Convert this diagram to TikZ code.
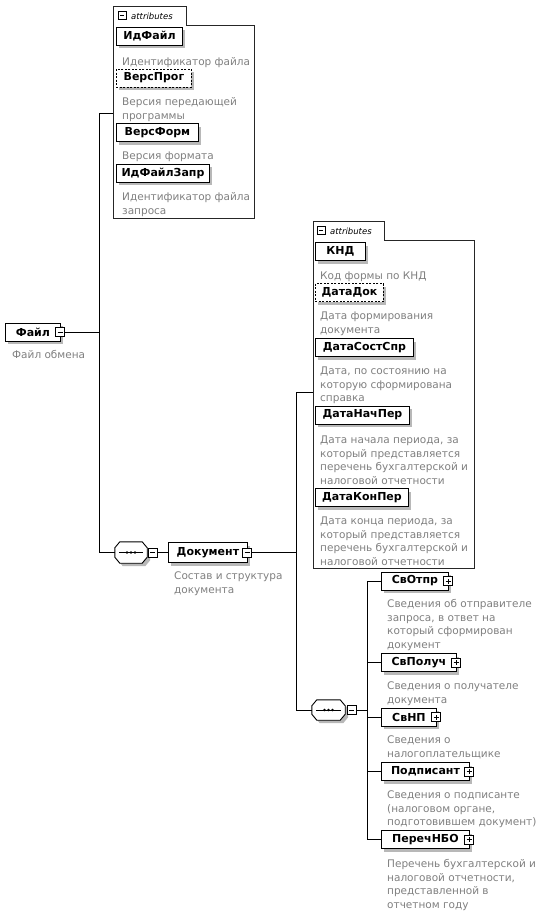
\documentclass[tikz,border=0pt]{standalone}
\usepackage{fontspec}
\setmainfont{DejaVu Sans}
\usetikzlibrary{shadows}
\definecolor{descgray}{RGB}{128,128,128}
\newcommand\namefont{\fontsize{11}{12}\selectfont\bfseries}
\newcommand\descfont{\fontsize{10.5}{13.5}\selectfont}
\newcommand\tabfont{\fontsize{8.5}{10}\selectfont\itshape}
\newcommand\octpath[2]{([shift={(#2+5,#2)}]#1.north west) -- ([shift={(#2-5,#2)}]#1.north east) -- ([shift={(#2,#2+6)}]#1.north east) -- ([shift={(#2,#2-6)}]#1.south east) -- ([shift={(#2-5,#2)}]#1.south east) -- ([shift={(#2+5,#2)}]#1.south west) -- ([shift={(#2,#2-6)}]#1.south west) -- ([shift={(#2,#2+6)}]#1.north west) -- cycle}
\newcommand\seqshape[1]{%
  \fill[black!28] \octpath{#1}{3};
  \draw[line width=0.9pt, fill=white] \octpath{#1}{0};
  \draw[line width=0.8pt] ([xshift=4pt]#1.west) -- ([xshift=-4pt]#1.east);
  \fill ([xshift=-4pt]#1.center) circle (1.4pt) (#1.center) circle (1.4pt) ([xshift=4pt]#1.center) circle (1.4pt);}
\tikzset{
  conn/.style={draw=black, line width=0.8pt},
  boxshadow/.style={drop shadow={shadow xshift=3pt, shadow yshift=-3pt, fill=black!28, opacity=1}},
  elem/.style={draw=black, line width=0.9pt, fill=white, boxshadow, minimum height=18pt, inner sep=0pt, anchor=west, font=\namefont},
  optelem/.style={elem, dash pattern=on 2pt off 1.5pt},
  desc/.style={anchor=base west, align=left, inner sep=0pt, text=descgray, font=\descfont},
  attrbox/.style={draw=black!85, line width=0.8pt, fill=white},
  tabtext/.style={anchor=base west, inner sep=0pt, font=\tabfont},
  seqbox/.style={shape=rectangle, draw=none, inner sep=0pt},
  iconbox/.style={draw=black, fill=white, line width=0.7pt, minimum size=9pt, inner sep=0pt},
  minusicon/.style={iconbox, path picture={\draw[line width=0.7pt] ([xshift=2pt]path picture bounding box.west) -- ([xshift=-2pt]path picture bounding box.east);}},
  plusicon/.style={iconbox, path picture={\draw[line width=0.7pt] ([xshift=2pt]path picture bounding box.west) -- ([xshift=-2pt]path picture bounding box.east) ([yshift=2pt]path picture bounding box.south) -- ([yshift=-2pt]path picture bounding box.north);}},
}
\begin{document}
\begin{tikzpicture}[x=1pt,y=-1pt]
\useasboundingbox[fill=white] (0,0) rectangle (547,914);

% ---------- attributes box 1 ----------
\draw[attrbox] (113,6) -- (186,6) -- (186,25) -- (254,25) -- (254,218) -- (113,218) -- cycle;
\node[minusicon, minimum size=8pt] (tab1ic) at (122,15.5) {};
\node[tabtext] (tab1t) at (131,19.5) {attributes};
\coordinate (attr1w) at (113,113);

\node[elem, minimum width=66pt] (idfile) at (116,36) {ИдФайл};
\node[desc] (didfile) at (122,65.5) {Идентификатор файла};
\node[optelem, minimum width=75pt] (versprog) at (116,78) {ВерсПрог};
\node[desc] (dversprog) at (122,119) {Версия передающей\\программы};
\node[elem, minimum width=82pt] (versform) at (116,132.5) {ВерсФорм};
\node[desc] (dversform) at (122,159.5) {Версия формата};
\node[elem, minimum width=93pt] (idfilezapr) at (116,173) {ИдФайлЗапр};
\node[desc] (didfilezapr) at (122,214) {Идентификатор файла\\запроса};

% ---------- root ----------
\node[elem, minimum width=55pt] (file) at (5,332) {Файл};
\node[minusicon] (fileic) at (60,332) {};
\node[desc] (dfile) at (12,358.5) {Файл обмена};

% ---------- sequence 1 and Документ ----------
\node[seqbox, minimum width=32pt, minimum height=21pt] (seq1) at (131,552.5) {};
\seqshape{seq1}
\node[minusicon] (seq1ic) at (152.5,552.5) {};

\node[elem, minimum width=79pt, minimum height=20pt] (doc) at (168,552.5) {Документ};
\node[minusicon] (docic) at (247,552.5) {};
\node[desc] (ddoc) at (174,593) {Состав и структура\\документа};

% ---------- attributes box 2 ----------
\draw[attrbox] (313,221) -- (384,221) -- (384,240) -- (474,240) -- (474,568) -- (313,568) -- cycle;
\node[minusicon, minimum size=8pt] (tab2ic) at (321,230.5) {};
\node[tabtext] (tab2t) at (330,234.5) {attributes};
\coordinate (attr2w) at (313,392);

\node[elem, minimum width=50pt] (knd) at (315,251.5) {КНД};
\node[desc] (dknd) at (320,279.5) {Код формы по КНД};
\node[optelem, minimum width=68pt] (datadok) at (315,292.5) {ДатаДок};
\node[desc] (ddatadok) at (320,333) {Дата формирования\\документа};
\node[elem, minimum width=98pt] (datasost) at (315,347.5) {ДатаСостСпр};
\node[desc] (ddatasost) at (320,401.5) {Дата, по состоянию на\\которую сформирована\\справка};
\node[elem, minimum width=94pt] (datanach) at (315,415) {ДатаНачПер};
\node[desc] (ddatanach) at (320,484) {Дата начала периода, за\\который представляется\\перечень бухгалтерской и\\налоговой отчетности};
\node[elem, minimum width=93pt] (datakon) at (315,497.5) {ДатаКонПер};
\node[desc] (ddatakon) at (320,565) {Дата конца периода, за\\который представляется\\перечень бухгалтерской и\\налоговой отчетности};

% ---------- sequence 2 and children ----------
\node[seqbox, minimum width=33pt, minimum height=20pt] (seq2) at (328.5,710) {};
\seqshape{seq2}
\node[minusicon] (seq2ic) at (351.5,710) {};

\node[elem, minimum width=67pt] (svotpr) at (381,581) {СвОтпр};
\node[plusicon] (svotpric) at (448,581) {};
\node[desc] (dsvotpr) at (387,648) {Сведения об отправителе\\запроса, в ответ на\\который сформирован\\документ};
\node[elem, minimum width=75pt] (svpoluch) at (381,662.5) {СвПолуч};
\node[plusicon] (svpoluchic) at (456,662.5) {};
\node[desc] (dsvpoluch) at (387,703) {Сведения о получателе\\документа};
\node[elem, minimum width=55pt] (svnp) at (381,717) {СвНП};
\node[plusicon] (svnpic) at (436,717) {};
\node[desc] (dsvnp) at (387,757) {Сведения о\\налогоплательщике};
\node[elem, minimum width=88pt] (podp) at (381,771.5) {Подписант};
\node[plusicon] (podpic) at (469,771.5) {};
\node[desc] (dpodp) at (387,825.5) {Сведения о подписанте\\(налоговом органе,\\подготовившем документ)};
\node[elem, minimum width=88pt] (perech) at (381,839.5) {ПеречНБО};
\node[plusicon] (perechic) at (469,839.5) {};
\node[desc] (dperech) at (387,908) {Перечень бухгалтерской и\\налоговой отчетности,\\представленной в\\отчетном году};

% ---------- connectors ----------
\coordinate (j0) at (99,113);
\coordinate (j1) at (99,332);
\coordinate (j2) at (99,552.5);
\draw[conn] (fileic.east) -- (j1);
\draw[conn] (attr1w) -- (j0) -- (j2) -- (seq1.west);
\draw[conn] (seq1ic.east) -- (doc.west);

\coordinate (k0) at (296,392);
\coordinate (k1) at (296,552.5);
\coordinate (k2) at (296,710);
\draw[conn] (docic.east) -- (k1);
\draw[conn] (attr2w) -- (k0) -- (k2) -- (seq2.west);

\coordinate (m0) at (367,581);
\coordinate (m1) at (367,710);
\coordinate (m2) at (367,839.5);
\draw[conn] (seq2ic.east) -- (m1);
\draw[conn] (svotpr.west) -- (m0) -- (m2) -- (perech.west);
\draw[conn] (svpoluch.west) -- (svpoluch.west -| m0);
\draw[conn] (svnp.west) -- (svnp.west -| m0);
\draw[conn] (podp.west) -- (podp.west -| m0);
\end{tikzpicture}
\end{document}
